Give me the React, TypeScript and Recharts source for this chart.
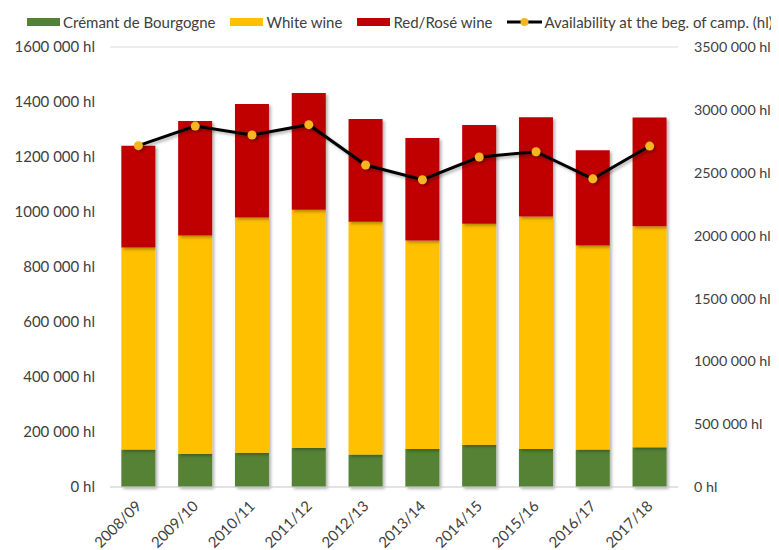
import React from "react";
import {
  ComposedChart,
  Bar,
  Line,
  XAxis,
  YAxis,
  CartesianGrid,
  Legend,
} from "recharts";

const campaigns = [
  "2008/09", "2009/10", "2010/11", "2011/12", "2012/13",
  "2013/14", "2014/15", "2015/16", "2016/17", "2017/18",
];
const cremant = [136000, 121000, 125000, 143000, 118000, 138000, 154000, 138000, 136000, 145000];
const whiteWine = [735000, 794000, 855000, 865000, 847000, 758000, 803000, 846000, 742000, 803000];
const redRoseWine = [370000, 416000, 413000, 425000, 373000, 373000, 359000, 361000, 347000, 396000];
const availability = [2715000, 2871000, 2800000, 2882000, 2561000, 2444000, 2625000, 2667000, 2452000, 2712000];

const leftTicks = [0, 200000, 400000, 600000, 800000, 1000000, 1200000, 1400000, 1600000];
const rightTicks = [0, 500000, 1000000, 1500000, 2000000, 2500000, 3000000, 3500000];

const GREEN = "#548235";
const YELLOW = "#FFC000";
const RED = "#C00000";
const DOT = "#F7B520";
const FONT = "Lato, 'Open Sans', sans-serif";

// 1600000 -> "1600 000 hl"
function fmt(v: number): string {
  if (v === 0) return "0 hl";
  const th = Math.floor(v / 1000);
  const rest = String(v % 1000).padStart(3, "0");
  return `${th} ${rest} hl`;
}

const data = campaigns.map((c, i) => ({
  campaign: c,
  cremant: cremant[i],
  white: whiteWine[i],
  red: redRoseWine[i],
  availability: availability[i],
}));

function Swatch({ color }: { color: string }) {
  return <span style={{ display: "inline-block", width: 33, height: 8, background: color, marginRight: 3 }} />;
}

function ChartLegend() {
  const item: React.CSSProperties = { display: "flex", alignItems: "center", marginRight: 15 };
  return (
    <div
      style={{
        height: 28,
        display: "flex",
        alignItems: "center",
        paddingLeft: 19,
        fontFamily: FONT,
        fontSize: 15,
        color: "#404040",
        whiteSpace: "nowrap",
      }}
    >
      <span style={item}><Swatch color={GREEN} />Crémant de Bourgogne</span>
      <span style={item}><Swatch color={YELLOW} />White wine</span>
      <span style={item}><Swatch color={RED} />Red/Rosé wine</span>
      <span style={{ ...item, marginRight: 0 }}>
        <svg width={35} height={10} style={{ marginRight: 2 }}>
          <line x1={0} y1={5} x2={35} y2={5} stroke="#000" strokeWidth={3} />
          <circle cx={17.5} cy={5} r={4} fill={DOT} />
        </svg>
        Availability at the beg. of camp. (hl)
      </span>
    </div>
  );
}

function XTick(props: any) {
  const { x, y, payload } = props;
  return (
    <g transform={`translate(${x + 4},${y + 12})`}>
      <text
        transform="rotate(-45)"
        textAnchor="end"
        fontFamily={FONT}
        fontSize={15}
        fill="#404040"
      >
        {payload.value}
      </text>
    </g>
  );
}

export default function App() {
  const tickStyle = { fontFamily: FONT, fontSize: 15, fill: "#404040" };
  return (
    <div style={{ width: 771, height: 542 }}>
      <ComposedChart
        width={771}
        height={542}
        data={data}
        margin={{ top: 11, right: 0, bottom: 0, left: 0 }}
        barCategoryGap="20%"
      >
        <defs>
          <filter id="shadow" x="-20%" y="-20%" width="150%" height="150%">
            <feDropShadow dx={2} dy={2} stdDeviation={1.5} floodColor="#000" floodOpacity={0.3} />
          </filter>
        </defs>
        <Legend verticalAlign="top" wrapperStyle={{ top: 0 }} content={() => <ChartLegend />} />
        <CartesianGrid vertical={false} stroke="#d9d9d9" />
        <XAxis
          dataKey="campaign"
          height={63}
          tickLine={false}
          axisLine={{ stroke: "#d9d9d9" }}
          interval={0}
          tick={<XTick />}
        />
        <YAxis
          yAxisId="left"
          width={102}
          domain={[0, 1600000]}
          ticks={leftTicks}
          tickFormatter={fmt}
          axisLine={false}
          tickLine={false}
          tickMargin={9}
          tick={tickStyle}
        />
        <YAxis
          yAxisId="right"
          orientation="right"
          width={101}
          domain={[0, 3500000]}
          ticks={rightTicks}
          tickFormatter={fmt}
          axisLine={false}
          tickLine={false}
          tickMargin={10}
          tick={{ ...tickStyle, fontSize: 14.3, textAnchor: "start" }}
        />
        <Bar yAxisId="left" dataKey="cremant" stackId="a" fill={GREEN} filter="url(#shadow)" isAnimationActive={false} />
        <Bar yAxisId="left" dataKey="white" stackId="a" fill={YELLOW} filter="url(#shadow)" isAnimationActive={false} />
        <Bar yAxisId="left" dataKey="red" stackId="a" fill={RED} filter="url(#shadow)" isAnimationActive={false} />
        <Line
          yAxisId="right"
          dataKey="availability"
          stroke="#000"
          strokeWidth={3}
          filter="url(#shadow)"
          dot={{ r: 4.5, fill: DOT, stroke: DOT, strokeWidth: 0 }}
          isAnimationActive={false}
        />
      </ComposedChart>
    </div>
  );
}
